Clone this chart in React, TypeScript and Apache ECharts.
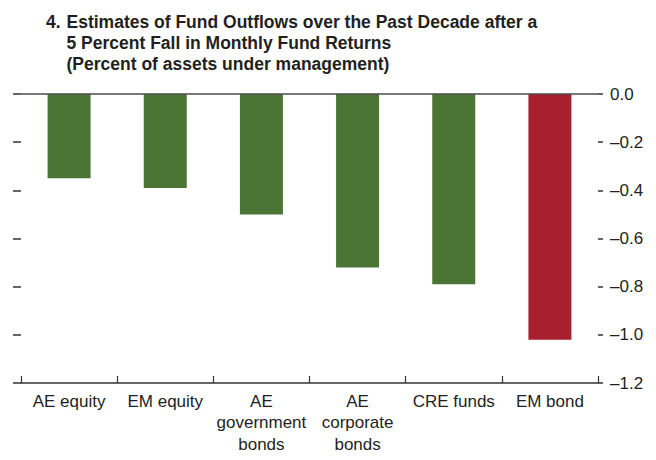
import React, { useEffect, useRef } from "react";
import * as echarts from "echarts";

const categories = [
  "AE equity",
  "EM equity",
  "AE\ngovernment\nbonds",
  "AE\ncorporate\nbonds",
  "CRE funds",
  "EM bond",
];
const values = [-0.35, -0.39, -0.5, -0.72, -0.79, -1.02];
const barColors = ["#4a7535", "#4a7535", "#4a7535", "#4a7535", "#4a7535", "#a81f2f"];
const titleNumber = "4.";
const titleLines = [
  "Estimates of Fund Outflows over the Past Decade after a",
  "5 Percent Fall in Monthly Fund Returns",
  "(Percent of assets under management)",
];
const yMin = -1.2;
const yMax = 0;
const yStep = 0.2;

const FONT = "'Liberation Sans', Arial, sans-serif";
const INK = "#231f20";

export default function App() {
  const ref = useRef<HTMLDivElement>(null);
  useEffect(() => {
    if (!ref.current) return;
    const chart = echarts.init(ref.current, undefined, { renderer: "svg" });
    const fmt = (v: number) =>
      Math.abs(v) < 1e-9 ? "0.0" : (v < 0 ? "\u2013" : "") + Math.abs(v).toFixed(1);
    const yCommon = {
      type: "value" as const,
      min: yMin,
      max: yMax,
      interval: yStep,
      splitLine: { show: false },
      axisLine: { show: false },
    };
    chart.setOption({
      animation: false,
      backgroundColor: "#ffffff",
      grid: { left: 21, right: 58, top: 94, bottom: 77, containLabel: false },
      graphic: [
        {
          type: "text",
          left: 46,
          top: 11,
          style: {
            text: titleNumber,
            font: `bold 17.5px ${FONT}`,
            fill: INK,
            lineHeight: 21.3,
          },
        },
        {
          type: "text",
          left: 66.5,
          top: 11,
          style: {
            text: titleLines.join("\n"),
            font: `bold 17.5px ${FONT}`,
            fill: INK,
            lineHeight: 21.3,
          },
        },
      ],
      xAxis: {
        type: "category",
        data: categories,
        position: "bottom",
        axisLine: { show: true, onZero: false, lineStyle: { color: "#333333", width: 1.5 } },
        axisTick: {
          show: true,
          inside: true,
          length: 7,
          lineStyle: { color: "#333333", width: 1.2 },
        },
        axisLabel: {
          margin: 8,
          color: INK,
          fontFamily: FONT,
          fontSize: 17,
          lineHeight: 21.3,
          interval: 0,
        },
      },
      yAxis: [
        {
          ...yCommon,
          position: "left",
          axisTick: { show: true, length: 8, lineStyle: { color: "#333333", width: 1.5 } },
          axisLabel: { show: false },
        },
        {
          ...yCommon,
          position: "right",
          axisTick: { show: true, length: 5, lineStyle: { color: "#333333", width: 1.5 } },
          axisLabel: {
            show: true,
            margin: 12,
            color: INK,
            fontFamily: FONT,
            fontSize: 17,
            formatter: fmt,
          },
        },
      ],
      series: [
        {
          type: "bar",
          yAxisIndex: 0,
          barWidth: 43,
          data: values.map((v, i) => ({ value: v, itemStyle: { color: barColors[i] } })),
          markLine: {
            silent: true,
            symbol: "none",
            label: { show: false },
            lineStyle: { color: "#4d4d4d", width: 1.5, type: "solid" },
            data: [{ yAxis: 0 }],
          },
        },
      ],
    });
    return () => chart.dispose();
  }, []);
  return (
    <div
      ref={ref}
      style={{ position: "fixed", left: 0, top: 0, width: 656, height: 460 }}
    />
  );
}
